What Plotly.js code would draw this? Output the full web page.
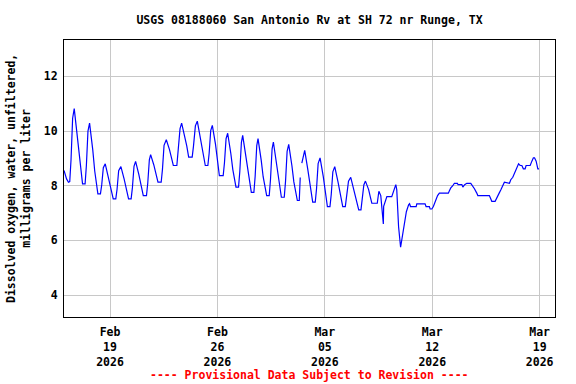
<!DOCTYPE html>
<html>
<head>
<meta charset="utf-8">
<script src="https://cdn.plot.ly/plotly-3.0.1.min.js"></script>
<style>html,body{margin:0;padding:0;background:#fff;}#chart{width:576px;height:384px;}</style>
</head>
<body>
<div id="chart"></div>
<script>
const times = [
  "2026-02-16 00:00","2026-02-16 04:00","2026-02-16 07:00","2026-02-16 09:00","2026-02-16 11:00","2026-02-16 13:30",
  "2026-02-16 16:00","2026-02-16 21:00","2026-02-17 00:00","2026-02-17 05:00","2026-02-17 09:00","2026-02-17 11:00","2026-02-17 13:30",
  "2026-02-17 16:00","2026-02-17 21:00","2026-02-18 00:00","2026-02-18 05:00","2026-02-18 09:00","2026-02-18 11:00","2026-02-18 13:30",
  "2026-02-18 16:30","2026-02-18 21:30","2026-02-19 00:30","2026-02-19 05:00","2026-02-19 09:00","2026-02-19 11:00","2026-02-19 13:30",
  "2026-02-19 17:00","2026-02-19 22:00","2026-02-20 01:00","2026-02-20 05:00","2026-02-20 09:00","2026-02-20 11:00","2026-02-20 13:30",
  "2026-02-20 16:00","2026-02-20 21:00","2026-02-21 00:00","2026-02-21 04:00","2026-02-21 09:00","2026-02-21 11:00","2026-02-21 13:30",
  "2026-02-21 15:30","2026-02-21 20:30","2026-02-21 23:30","2026-02-22 03:00","2026-02-22 08:00","2026-02-22 10:00","2026-02-22 12:30",
  "2026-02-22 16:00","2026-02-22 21:00","2026-02-23 00:00","2026-02-23 03:00","2026-02-23 08:30","2026-02-23 10:30","2026-02-23 13:30",
  "2026-02-23 16:00","2026-02-23 21:00","2026-02-24 00:00","2026-02-24 03:00","2026-02-24 08:30","2026-02-24 10:30","2026-02-24 13:30",
  "2026-02-24 16:30","2026-02-24 21:30","2026-02-25 00:30","2026-02-25 05:00","2026-02-25 09:00","2026-02-25 11:00","2026-02-25 13:30",
  "2026-02-25 16:00","2026-02-25 21:00","2026-02-26 00:00","2026-02-26 03:00","2026-02-26 09:00","2026-02-26 11:00","2026-02-26 13:30",
  "2026-02-26 16:00","2026-02-26 21:00","2026-02-27 00:00","2026-02-27 05:00","2026-02-27 09:00","2026-02-27 11:00","2026-02-27 13:30",
  "2026-02-27 15:30","2026-02-27 20:30","2026-02-27 23:30","2026-02-28 05:00","2026-02-28 09:00","2026-02-28 11:00","2026-02-28 13:30",
  "2026-02-28 15:30","2026-02-28 20:30","2026-02-28 23:30","2026-03-01 05:00","2026-03-01 09:00","2026-03-01 11:00","2026-03-01 13:30",
  "2026-03-01 15:30","2026-03-01 20:30","2026-03-01 23:30","2026-03-02 04:00","2026-03-02 08:30","2026-03-02 10:30","2026-03-02 13:00",
  "2026-03-02 15:30","2026-03-02 20:30","2026-03-02 23:30","2026-03-03 05:00","2026-03-03 08:00",
  "2026-03-03 09:30","2026-03-03 10:30","2026-03-03 12:00",
  "2026-03-03 16:30","2026-03-03 21:30","2026-03-04 00:30","2026-03-04 05:00","2026-03-04 09:00","2026-03-04 11:00","2026-03-04 13:30",
  "2026-03-04 16:30","2026-03-04 21:30","2026-03-05 00:30","2026-03-05 04:00","2026-03-05 08:00","2026-03-05 10:00","2026-03-05 12:30",
  "2026-03-05 15:30","2026-03-05 20:30","2026-03-05 23:30","2026-03-06 04:00","2026-03-06 08:00","2026-03-06 10:00","2026-03-06 13:00",
  "2026-03-06 16:30","2026-03-06 21:30","2026-03-07 00:30","2026-03-07 05:00","2026-03-07 08:30","2026-03-07 10:30","2026-03-07 13:00",
  "2026-03-07 15:30","2026-03-07 20:30","2026-03-07 23:00","2026-03-08 01:30","2026-03-08 10:00",
  "2026-03-08 12:30","2026-03-08 15:30","2026-03-08 19:30","2026-03-08 20:00",
  "2026-03-09 01:00","2026-03-09 08:40","2026-03-09 13:50","2026-03-09 15:00",
  "2026-03-09 16:30","2026-03-09 19:20","2026-03-09 22:30","2026-03-10 02:50",
  "2026-03-10 07:30","2026-03-10 11:00","2026-03-10 12:30","2026-03-10 14:00",
  "2026-03-10 22:50","2026-03-10 23:50","2026-03-11 12:45","2026-03-11 14:20",
  "2026-03-11 19:30","2026-03-11 20:40","2026-03-11 23:20","2026-03-12 01:45",
  "2026-03-12 04:30","2026-03-12 06:40","2026-03-12 08:20","2026-03-12 11:10",
  "2026-03-13 01:10","2026-03-13 02:50","2026-03-13 05:00","2026-03-13 08:10",
  "2026-03-13 10:35","2026-03-13 15:20","2026-03-13 16:20","2026-03-13 22:20",
  "2026-03-13 23:50","2026-03-14 02:40","2026-03-14 06:00","2026-03-14 12:15",
  "2026-03-14 15:20","2026-03-14 18:00","2026-03-14 21:40","2026-03-14 23:15",
  "2026-03-15 17:20","2026-03-15 19:40","2026-03-15 21:10","2026-03-16 02:20",
  "2026-03-16 05:00","2026-03-16 08:40","2026-03-16 11:20","2026-03-16 14:30",
  "2026-03-16 16:50","2026-03-17 00:45","2026-03-17 02:50","2026-03-17 06:00",
  "2026-03-17 08:40","2026-03-17 11:20","2026-03-17 15:00","2026-03-17 17:30",
  "2026-03-17 20:10","2026-03-17 22:30","2026-03-18 01:15","2026-03-18 02:50",
  "2026-03-18 09:10","2026-03-18 11:50","2026-03-18 14:10","2026-03-18 16:00",
  "2026-03-18 18:30","2026-03-18 21:10","2026-03-18 23:00"
];
const oxygen = [
  8.56, 8.25, 8.13, 8.15, 8.95, 10.47,
  10.82, 9.78, 8.98, 8.07, 8.07, 8.74, 10.00,
  10.29, 9.31, 8.55, 7.70, 7.70, 8.03, 8.66,
  8.80, 8.31, 7.94, 7.52, 7.52, 7.87, 8.55,
  8.70, 8.25, 7.91, 7.52, 7.52, 7.93, 8.71,
  8.89, 8.42, 8.05, 7.64, 7.64, 8.09, 8.95,
  9.14, 8.76, 8.46, 8.13, 8.13, 8.60, 9.48,
  9.68, 9.32, 9.05, 8.74, 8.74, 9.21, 10.09,
  10.29, 9.82, 9.46, 9.05, 9.05, 9.44, 10.19,
  10.36, 9.74, 9.27, 8.74, 8.74, 9.18, 10.02,
  10.21, 9.51, 8.98, 8.37, 8.37, 8.84, 9.72,
  9.92, 9.17, 8.60, 7.95, 7.95, 8.52, 9.59,
  9.84, 9.05, 8.45, 7.76, 7.76, 8.35, 9.47,
  9.72, 8.93, 8.33, 7.64, 7.64, 8.23, 9.35,
  9.60, 8.83, 8.25, 7.58, 7.58, 8.16, 9.26,
  9.51, 8.73, 8.14, 7.46, 7.46,
  8.30, null, 8.83,
  9.29, 8.57, 8.02, 7.40, 7.40, 7.89, 8.81,
  9.02, 8.34, 7.83, 7.24, 7.24, 7.68, 8.51,
  8.70, 8.15, 7.72, 7.24, 7.24, 7.56, 8.17,
  8.31, 7.86, 7.51, 7.12, 7.12, 7.44, 8.03,
  8.17, 7.86, 7.60, 7.36, 7.36,
  7.80, 7.64, 6.60, 7.25,
  7.60, 7.60, 7.95, 8.04,
  7.85, 6.50, 5.75, 6.40,
  7.05, 7.30, 7.34, 7.24,
  7.24, 7.34, 7.34, 7.24,
  7.24, 7.15, 7.15, 7.24,
  7.40, 7.52, 7.64, 7.73,
  7.73, 7.82, 7.92, 8.00,
  8.09, 8.09, 8.04, 8.04,
  7.95, 8.04, 8.09, 8.09,
  8.00, 7.89, 7.73, 7.64,
  7.64, 7.52, 7.43, 7.43,
  7.58, 7.73, 7.85, 8.04,
  8.13, 8.09, 8.22, 8.31,
  8.46, 8.62, 8.80, 8.74,
  8.74, 8.62, 8.62, 8.74,
  8.74, 8.90, 9.02, 9.02,
  8.90, 8.62, 8.62
];
const tickDates = ["2026-02-19","2026-02-26","2026-03-05","2026-03-12","2026-03-19"];
const tickLabels = ["Feb<br>19<br>2026","Feb<br>26<br>2026","Mar<br>05<br>2026","Mar<br>12<br>2026","Mar<br>19<br>2026"];
const yTicks = [4, 6, 8, 10, 12];

const FONT = "DejaVu Sans Mono, Liberation Mono, monospace";

const trace = {
  x: times, y: oxygen, type: "scatter", mode: "lines",
  line: {color: "#0000ff", width: 1.2},
  connectgaps: false, hoverinfo: "skip"
};

const layout = {
  width: 576, height: 384,
  margin: {l: 64, r: 21, t: 40, b: 67, pad: 0},
  paper_bgcolor: "#ffffff", plot_bgcolor: "#ffffff",
  font: {family: FONT, size: 11.5, color: "#000000", weight: "bold"},
  showlegend: false,
  title: {
    text: "USGS 08188060 San Antonio Rv at SH 72 nr Runge, TX",
    font: {family: FONT, size: 11.5, color: "#000000", weight: "bold"},
    x: 0.5, xref: "paper", xanchor: "center",
    y: 1 - 20/384, yref: "container", yanchor: "middle"
  },
  xaxis: {
    type: "date",
    range: ["2026-02-16 00:00", "2026-03-20 00:00"],
    tickmode: "array", tickvals: tickDates, ticktext: tickLabels,
    showgrid: true, gridcolor: "#c8c8c8", gridwidth: 1,
    showline: true, linecolor: "#000000", linewidth: 1, mirror: true,
    ticks: "", zeroline: false, ticklabelstandoff: 4,
    tickfont: {family: FONT, size: 11.5, color: "#000000", weight: "bold"}
  },
  yaxis: {
    range: [3.2, 13.33],
    tickmode: "array", tickvals: yTicks,
    showgrid: true, gridcolor: "#c8c8c8", gridwidth: 1,
    showline: true, linecolor: "#000000", linewidth: 1, mirror: true,
    ticks: "", zeroline: false, ticklabelstandoff: 3,
    tickfont: {family: FONT, size: 11.5, color: "#000000", weight: "bold"}
  },
  annotations: [
    {
      text: "Dissolved oxygen, water, unfiltered,<br>milligrams per liter",
      textangle: -90, showarrow: false,
      xref: "paper", yref: "paper",
      x: (18.5 - 64) / 491, y: 0.5, xanchor: "center", yanchor: "middle",
      font: {family: FONT, size: 11.5, color: "#000000", weight: "bold"}
    },
    {
      text: "---- Provisional Data Subject to Revision ----",
      showarrow: false, xref: "paper", yref: "paper",
      x: 0.5, y: (317 - 375) / 277, xanchor: "center", yanchor: "middle",
      font: {family: FONT, size: 11.5, color: "#ff0000", weight: "bold"}
    }
  ]
};

Plotly.newPlot("chart", [trace], layout, {displayModeBar: false, staticPlot: true});
</script>
</body>
</html>
